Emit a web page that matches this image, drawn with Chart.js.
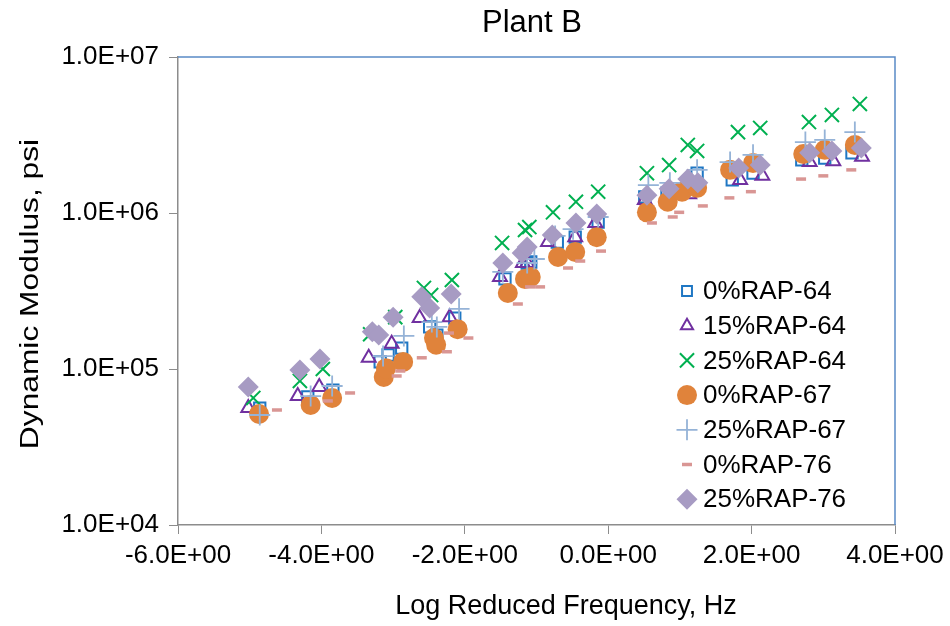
<!DOCTYPE html>
<html>
<head>
<meta charset="utf-8">
<script src="https://cdn.jsdelivr.net/npm/chart.js@4.4.1/dist/chart.umd.min.js"></script>
<style>
  html, body { margin: 0; padding: 0; background: #fff; }
  #wrap { width: 950px; height: 626px; }
</style>
</head>
<body>
<div id="wrap"><canvas id="plantB"></canvas></div>
<script>
// log reduced frequency (x) and dynamic modulus in psi (y), one pair per mix
const freq_0RAP64 = [-4.86, -4.19, -3.84, -3.18, -3.07, -2.88, -2.49, -2.39, -2.14, -1.44, -1.13, -1.08, -0.71, -0.46, -0.14, 0.51, 0.82, 1.03, 1.24, 1.73, 2.02, 2.70, 3.02, 3.40];
const mod_0RAP64  = [5.62e4, 6.62e4, 7.33e4, 1.11e5, 1.23e5, 1.36e5, 1.86e5, 1.65e5, 2.12e5, 3.78e5, 4.78e5, 4.85e5, 6.52e5, 7.0e5, 8.75e5, 1.27e6, 1.34e6, 1.40e6, 1.80e6, 1.63e6, 1.80e6, 2.19e6, 2.25e6, 2.43e6];

const freq_15RAP64 = [-5.02, -4.33, -4.03, -3.34, -3.02, -2.63, -2.21, -1.51, -1.19, -1.13, -0.84, -0.46, -0.18, 0.51, 0.82, 1.13, 1.84, 2.15, 2.81, 3.14, 3.54];
const mod_15RAP64  = [5.62e4, 6.71e4, 7.67e4, 1.18e5, 1.45e5, 2.12e5, 2.15e5, 3.89e5, 4.78e5, 4.78e5, 6.52e5, 7.0e5, 8.63e5, 1.21e6, 1.28e6, 1.32e6, 1.63e6, 1.73e6, 2.12e6, 2.15e6, 2.29e6];

const freq_25RAP64 = [-4.95, -4.30, -3.98, -3.32, -2.97, -2.57, -2.47, -2.18, -1.48, -1.16, -1.10, -0.77, -0.45, -0.14, 0.54, 0.85, 1.11, 1.24, 1.81, 2.12, 2.80, 3.12, 3.51];
const mod_25RAP64  = [6.52e4, 8.38e4, 1.0e5, 1.67e5, 2.15e5, 3.31e5, 2.98e5, 3.72e5, 6.43e5, 7.78e5, 8.13e5, 1.01e6, 1.18e6, 1.37e6, 1.80e6, 2.03e6, 2.73e6, 2.50e6, 3.30e6, 3.51e6, 3.83e6, 4.25e6, 5.0e6];

const freq_0RAP67 = [-4.87, -4.15, -3.85, -3.13, -3.10, -2.86, -2.43, -2.40, -2.10, -1.40, -1.16, -1.08, -0.70, -0.46, -0.16, 0.54, 0.83, 1.03, 1.24, 1.70, 2.02, 2.72, 3.02, 3.44];
const mod_0RAP67  = [5.15e4, 5.88e4, 6.52e4, 8.9e4, 1.01e5, 1.11e5, 1.58e5, 1.43e5, 1.80e5, 3.07e5, 3.78e5, 3.89e5, 5.22e5, 5.62e5, 7.0e5, 1.01e6, 1.18e6, 1.37e6, 1.45e6, 1.89e6, 2.09e6, 2.39e6, 2.54e6, 2.73e6];

const freq_25RAP67 = [-4.86, -4.15, -3.85, -3.14, -2.85, -2.46, -2.39, -2.08, -1.47, -1.13, -1.03, -0.74, -0.49, -0.14, 0.56, 0.86, 1.24, 1.70, 2.02, 2.75, 3.02, 3.44];
const mod_25RAP67  = [5.07e4, 6.71e4, 7.78e4, 1.21e5, 1.63e5, 2.0e5, 1.86e5, 2.43e5, 4.19e5, 4.78e5, 5.07e5, 7.13e5, 7.88e5, 9.43e5, 1.51e6, 1.56e6, 1.89e6, 2.12e6, 2.36e6, 2.85e6, 2.94e6, 3.30e6];

const freq_0RAP76 = [-4.62, -3.91, -3.60, -2.95, -2.90, -2.60, -2.25, -2.22, -1.95, -1.26, -1.09, -0.95, -0.56, -0.39, -0.10, 0.61, 0.90, 0.99, 1.32, 1.69, 1.99, 2.69, 3.00, 3.39];
const mod_0RAP76  = [5.46e4, 6.24e4, 7.02e4, 9.02e4, 9.71e4, 1.18e5, 1.29e5, 1.70e5, 1.58e5, 2.61e5, 3.36e5, 3.36e5, 4.44e5, 4.92e5, 5.70e5, 8.63e5, 9.43e5, 1.01e6, 1.11e6, 1.25e6, 1.37e6, 1.65e6, 1.73e6, 1.89e6];

const freq_25RAP76 = [-5.02, -4.30, -4.02, -3.29, -3.20, -3.00, -2.60, -2.49, -2.19, -1.47, -1.20, -1.13, -0.78, -0.45, -0.16, 0.54, 0.85, 1.11, 1.25, 1.82, 2.12, 2.81, 3.12, 3.53];
const mod_25RAP76  = [7.67e4, 9.86e4, 1.16e5, 1.73e5, 1.65e5, 2.15e5, 2.90e5, 2.46e5, 3.03e5, 4.78e5, 5.55e5, 6.06e5, 7.23e5, 8.63e5, 9.86e5, 1.30e6, 1.43e6, 1.65e6, 1.56e6, 1.94e6, 2.03e6, 2.43e6, 2.50e6, 2.61e6];

const xTicks = [-6, -4, -2, 0, 2, 4];
const yTicks = [1e4, 1e5, 1e6, 1e7];

const FONT = "'Liberation Sans', Arial, sans-serif";

function pairs(xs, ys) {
  return xs.map((x, i) => ({ x: x, y: ys[i] }));
}
function sci(v) {
  // 1.0E+05 style, like Excel
  const s = Number(v).toExponential(1).toUpperCase();
  return s.replace(/E([+-])(\d)$/, 'E$10$2');
}

const series = [
  { label: '0%RAP-64',  data: pairs(freq_0RAP64, mod_0RAP64),   pointStyle: 'rect',     radius: 8,    bg: 'rgba(0,0,0,0)', border: '#1F77C4', bw: 2 },
  { label: '15%RAP-64', data: pairs(freq_15RAP64, mod_15RAP64), pointStyle: 'triangle', radius: 8,    bg: 'rgba(0,0,0,0)', border: '#7030A0', bw: 2 },
  { label: '25%RAP-64', data: pairs(freq_25RAP64, mod_25RAP64), pointStyle: 'crossRot', radius: 10,   bg: '#00B050',       border: '#00B050', bw: 2 },
  { label: '0%RAP-67',  data: pairs(freq_0RAP67, mod_0RAP67),   pointStyle: 'circle',   radius: 10,   bg: '#E0833B',       border: '#E0833B', bw: 0 },
  { label: '25%RAP-67', data: pairs(freq_25RAP67, mod_25RAP67), pointStyle: 'cross',    radius: 10.5, bg: '#95B3D7',       border: '#95B3D7', bw: 1.8 },
  { label: '0%RAP-76',  data: pairs(freq_0RAP76, mod_0RAP76),   pointStyle: 'line',     radius: 5,    bg: '#D99694',       border: '#D99694', bw: 3.5 },
  { label: '25%RAP-76', data: pairs(freq_25RAP76, mod_25RAP76), pointStyle: 'rectRot',  radius: 10.5, bg: '#A79BC3',       border: '#A79BC3', bw: 0 }
];

const datasets = series.map((s, i) => ({
  label: s.label,
  data: s.data,
  showLine: false,
  pointStyle: s.pointStyle,
  pointRadius: s.radius,
  pointBackgroundColor: s.bg,
  pointBorderColor: s.border,
  pointBorderWidth: s.bw,
  order: series.length - i   // later series on top, like Excel
}));

// title, axis titles, plot border and legend drawn in one go
const decorations = {
  id: 'decorations',
  afterDraw(chart) {
    const ctx = chart.ctx;
    const a = chart.chartArea;
    ctx.save();

    ctx.strokeStyle = '#5A8AC6';
    ctx.lineWidth = 1.5;
    ctx.beginPath();
    ctx.moveTo(a.left, a.top);
    ctx.lineTo(a.right, a.top);
    ctx.lineTo(a.right, a.bottom);
    ctx.stroke();

    ctx.fillStyle = '#000';
    ctx.textAlign = 'center';
    ctx.textBaseline = 'middle';
    ctx.font = '31px ' + FONT;
    ctx.fillText('Plant B', 532, 23);

    ctx.font = '27px ' + FONT;
    ctx.fillText('Log Reduced Frequency, Hz', 566, 607);

    ctx.save();
    ctx.translate(31, 294);
    ctx.rotate(-Math.PI / 2);
    ctx.scale(1.22, 1);
    ctx.font = '26px ' + FONT;
    ctx.fillText('Dynamic Modulus, psi', 0, 0);
    ctx.restore();

    // legend inside the plot area
    ctx.textAlign = 'left';
    ctx.font = '26px ' + FONT;
    const lx = 687, ly0 = 291, step = 34.7;
    chart.data.datasets.forEach((ds, i) => {
      const y = ly0 + i * step;
      ctx.fillStyle = ds.pointBackgroundColor;
      ctx.strokeStyle = ds.pointBorderColor;
      ctx.lineWidth = ds.pointBorderWidth;
      Chart.helpers.drawPoint(ctx, {
        pointStyle: ds.pointStyle,
        radius: ds.pointStyle === 'rect' || ds.pointStyle === 'triangle' ? 7 : ds.pointRadius,
        rotation: 0,
        borderWidth: ds.pointBorderWidth
      }, lx, y);
      ctx.fillStyle = '#000';
      ctx.fillText(ds.label, lx + 16, y + 1);
    });
    ctx.restore();
  }
};

new Chart(document.getElementById('plantB'), {
  type: 'scatter',
  data: { datasets: datasets },
  options: {
    responsive: true,
    maintainAspectRatio: false,
    animation: false,
    devicePixelRatio: 1,
    layout: { padding: { top: 57, right: 55, left: 0, bottom: 0 } },
    plugins: {
      legend: { display: false },
      tooltip: { enabled: false },
      title: { display: false }
    },
    scales: {
      x: {
        type: 'linear',
        min: -6,
        max: 4,
        afterBuildTicks: s => { s.ticks = xTicks.map(v => ({ value: v })); },
        afterFit: s => { s.height = 101; },
        grid: { drawOnChartArea: false, drawTicks: true, tickLength: 9, color: '#8C8C8C' },
        border: { display: true, color: '#8C8C8C', width: 1.5 },
        ticks: {
          color: '#000',
          padding: 6,
          maxRotation: 0,
          font: { family: FONT, size: 26 },
          callback: v => sci(v)
        }
      },
      y: {
        type: 'logarithmic',
        min: 1e4,
        max: 1e7,
        afterBuildTicks: s => { s.ticks = yTicks.map(v => ({ value: v })); },
        afterFit: s => { s.width = 178; },
        grid: { drawOnChartArea: false, drawTicks: true, tickLength: 9, color: '#8C8C8C' },
        border: { display: true, color: '#8C8C8C', width: 1.5 },
        ticks: {
          color: '#000',
          padding: 10,
          font: { family: FONT, size: 26 },
          callback: v => sci(v)
        }
      }
    }
  },
  plugins: [decorations]
});
</script>
</body>
</html>
